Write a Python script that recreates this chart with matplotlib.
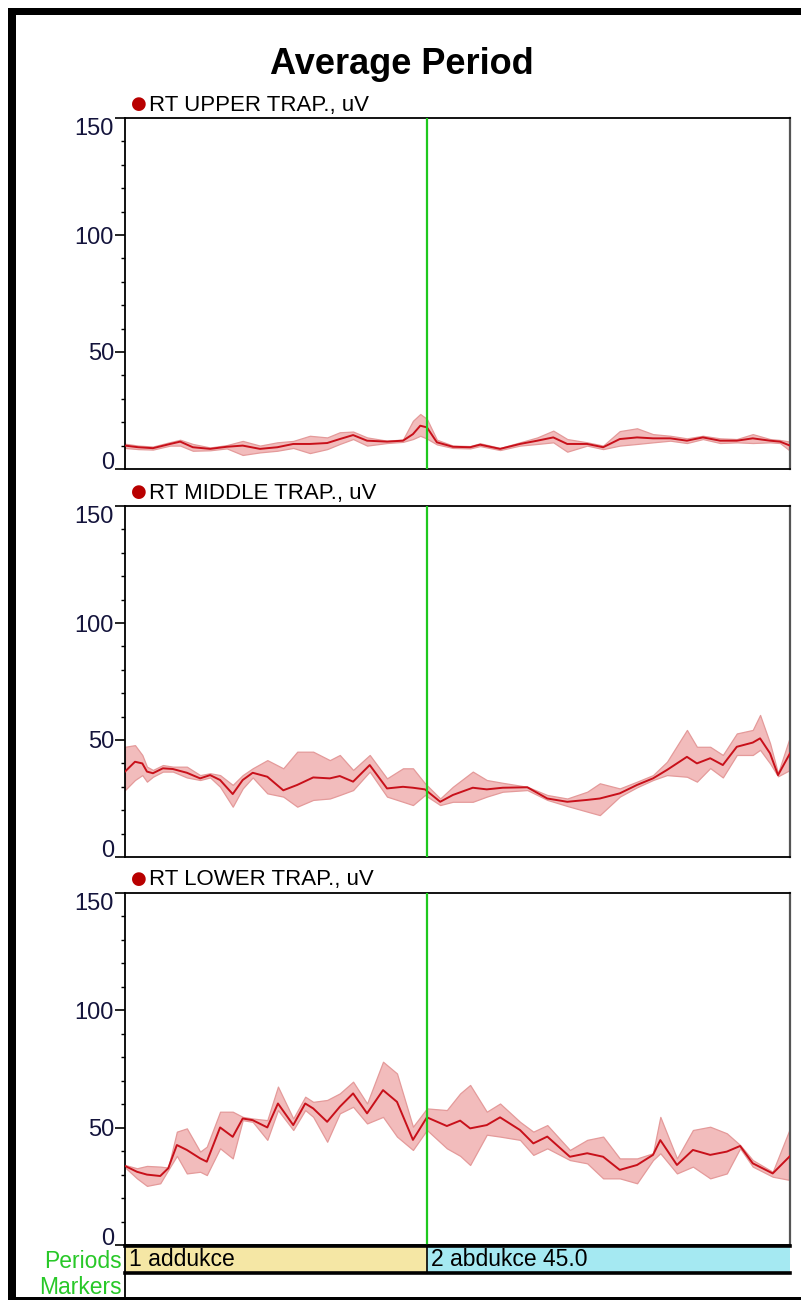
import matplotlib
matplotlib.use("Agg")
import matplotlib.pyplot as plt
from matplotlib.lines import Line2D
from matplotlib.patches import Rectangle
from matplotlib.ticker import MultipleLocator, FixedLocator

# ---------------------------------------------------------------------------
# Data: averaged EMG envelope (% of cycle) with mean and lower/upper band
# ---------------------------------------------------------------------------
upper_t = [0, 2, 4.2, 6.8, 8.3, 10.2, 12.8, 15.3, 17.7, 20.3, 22.9, 25.3, 27.8,
           30.4, 32.3, 34.3, 36.4, 39.4, 41.8, 43.3, 44.4, 45.4, 46.9, 49.3,
           51.9, 53.4, 56.4, 59.4, 62, 64.4, 66.5, 69.5, 71.9, 74.4, 77, 79.4,
           82, 84.5, 86.9, 89.5, 92, 94.4, 97, 98.5, 100]
upper_mean = [10, 9.3, 8.9, 10.7, 11.7, 9.3, 8.6, 9.5, 10, 8.6, 9.3, 10.7, 10.7,
              11.1, 12.8, 14.5, 12.1, 11.7, 12.1, 14.9, 18.5, 17.8, 11.4, 9.5,
              9.3, 10.4, 8.6, 10.7, 12.1, 13.5, 10.7, 10.7, 9.3, 12.8, 13.5, 13.1,
              13.1, 12.1, 13.5, 12.1, 12.1, 13.1, 12.1, 11.7, 10]
upper_lo = [9, 8.5, 8.3, 10, 10, 7.8, 8, 8.8, 6, 7.1, 7.8, 9, 6.8,
            8.5, 10.7, 12.8, 10, 11.1, 11.6, 12.8, 14.2, 13, 10.5, 9,
            8.8, 9.8, 8.1, 10, 10.7, 11.4, 7.4, 10, 8.5, 10, 10.7, 11.4,
            12.1, 11.1, 12.8, 11.1, 11.4, 11.1, 11.4, 11.1, 7.8]
upper_hi = [10.8, 10, 9.6, 11.5, 12.5, 10.7, 9.2, 10.2, 12, 10, 11.4, 12, 14.2,
            13.5, 15.7, 16, 13.5, 12.1, 12.6, 20.6, 23.5, 21.4, 12.5, 10,
            9.8, 11, 9, 11.4, 13.5, 16.4, 12.8, 11.4, 10, 16.2, 17.4, 14.9,
            14.2, 13.1, 14.2, 13.1, 12.8, 14.9, 12.8, 12.4, 11.7]

middle_t = [0, 1.5, 2.6, 3.3, 4.2, 5.7, 7.2, 9.3, 11.3, 12.8, 14.3, 16.2, 17.7,
            19.2, 21.4, 23.8, 25.9, 28.3, 30.8, 32.3, 34.3, 36.8, 39.4, 41.8,
            43.3, 45.1, 47.4, 49.3, 52.3, 54.4, 56.8, 60.5, 63.5, 66.5, 69.5,
            71.4, 74.4, 77, 79.4, 81.5, 84.5, 86, 88, 89.9, 92, 94.4, 95.5, 97,
            98.2, 100]
middle_mean = [36.5, 40.7, 40, 36.5, 35.8, 37.9, 37.6, 36, 33.6, 35, 32.9, 26.9,
               32.9, 36, 34.3, 28.5, 30.8, 34, 33.6, 34.6, 32.2, 39.3, 29.3, 30,
               29.6, 28.9, 23.6, 26.5, 29.6, 28.9, 29.6, 29.8, 25, 23.6, 24.4,
               25, 27.2, 30.8, 33.6, 37.2, 42.8, 40, 42.2, 39.3, 47.1, 48.9, 50.7,
               44.3, 35, 44.3]
middle_lo = [28.6, 32.9, 35, 32.2, 34.3, 36.5, 36.5, 34, 32.9, 34, 30, 21.5,
             29.3, 34, 27.2, 25.8, 21.5, 24.4, 25, 26.5, 28.6, 36.5, 25.8, 23.6,
             22.2, 26.5, 22.2, 23.6, 23.6, 25.8, 27.9, 28.6, 24.4, 21.8, 19.4,
             17.9, 25.8, 29.8, 32.9, 35, 34.3, 32.2, 38, 34, 43.6, 43.6, 45.8,
             40, 34.5, 37.2]
middle_hi = [47.1, 47.8, 43.6, 38.6, 37.2, 39.3, 38.6, 38.6, 35, 35.8, 35, 30.8,
             35, 37.9, 41.4, 37.9, 45, 45, 41.4, 43.6, 37.2, 43.6, 33.6, 37.9,
             37.9, 31.5, 25, 30, 36.5, 32.9, 31.7, 30, 26.5, 25, 27.9,
             31.5, 29.3, 32.2, 35, 40.7, 54.3, 47.1, 47.1, 43.6, 52.8, 54.3, 60.7,
             48.6, 35.8, 51.4]

lower_t = [0, 1.8, 3.3, 5.3, 6.5, 7.8, 9.3, 11.3, 12.3, 14.3, 16.2, 17.7, 19.2,
           21.4, 23, 25.3, 27.1, 28.3, 30.4, 32.3, 34.3, 36.4, 38.8, 40.9, 43.3,
           45.4, 48.4, 50.4, 51.9, 54.4, 56.4, 59.4, 61.4, 63.5, 66.9, 69.5,
           71.9, 74.4, 77, 79.4, 80.5, 83, 85.4, 88, 90.5, 92.5, 94.4, 97.4, 100]
lower_mean = [33.7, 31.2, 30, 29.4, 32.7, 42.6, 40.5, 36.9, 35.5, 50.1, 46.1,
              53.9, 53.2, 50.1, 60.3, 51.1, 60.3, 58.2, 52.5, 58.9, 64.6, 56.1,
              66, 61, 44.8, 54.4, 50.7, 53, 49.7, 51.1, 54.4, 49, 43.3, 46.2,
              37.6, 39.1, 37.6, 32, 34.1, 38.4, 44.7, 34.1, 40.5, 38.4, 39.8,
              42.2, 34.8, 30.5, 37.9]
lower_lo = [33.1, 28.4, 25.2, 26.3, 32, 38, 30.5, 31.2, 29.8, 41.2, 36.9,
            53.2, 52.5, 44.8, 57.5, 49, 57.5, 54.6, 44, 56.1, 58.9, 51.8,
            54.6, 46.2, 40.5, 49, 41.2, 38, 34.1, 47, 46.2, 44.8, 38.4, 41.2,
            36.2, 34.8, 28.4, 28.4, 26.3, 36.2, 39.1, 30.5, 33.4, 28.4, 30.5,
            41.2, 33.4, 29.1, 27.7]
lower_hi = [34.1, 32.7, 33.7, 33.4, 33, 48.3, 49.7, 39.8, 41.9, 56.8, 56.8,
            54.6, 53.9, 53.2, 67.5, 53.9, 63.2, 61, 61.8, 64.6, 69.6, 60.3,
            78.1, 73.1, 50.4, 58.2, 57.5, 64.6, 68.2, 56.8, 60.3, 52.5, 48.3,
            51.1, 40.5, 44.8, 46.2, 36.9, 36.9, 39.1, 54.6, 36.9, 49, 50.4, 47.6,
            42.6, 36.2, 31.2, 49.7]

channels = ["RT UPPER TRAP., uV", "RT MIDDLE TRAP., uV", "RT LOWER TRAP., uV"]
period_names = ["1 addukce", "2 abdukce 45.0"]
period_starts = [0, 45.4]
period_ends = [45.4, 100]
y_ticks = [0, 50, 100, 150]

# ---------------------------------------------------------------------------
W, H = 801, 1302
fig = plt.figure(figsize=(W / 100, H / 100), dpi=100)
fig.patch.set_facecolor("white")

SANS = ["Liberation Sans", "DejaVu Sans"]

LINE_RED = "#c8101a"
BAND_FILL = "#f2bcbc"
BAND_EDGE = "#e49a9a"
GREEN = "#1ec81e"
LABEL_GREEN = "#28c828"
TICK_TEXT = "#14143c"


def fx(px):
    return px / W


def fy(py):
    return 1 - py / H


AX_L, AX_R = 125, 790
panels = [(118, 469), (506, 857), (893, 1245)]
series = [(upper_t, upper_mean, upper_lo, upper_hi),
          (middle_t, middle_mean, middle_lo, middle_hi),
          (lower_t, lower_mean, lower_lo, lower_hi)]

for (top, bot), name, (t, m, lo, hi) in zip(panels, channels, series):
    ax = fig.add_axes([fx(AX_L), fy(bot), (AX_R - AX_L) / W, (bot - top) / H])
    ax.fill_between(t, lo, hi, facecolor=BAND_FILL, edgecolor=BAND_EDGE,
                    linewidth=0.9, zorder=2)
    ax.plot(t, m, color=LINE_RED, linewidth=1.4, zorder=3)
    ax.axvline(period_ends[0], color=GREEN, linewidth=1.6, zorder=4)
    ax.set_xlim(0, 100)
    ax.set_ylim(0, 150)
    ax.set_xticks([])
    ax.yaxis.set_major_locator(FixedLocator(y_ticks))
    ax.yaxis.set_minor_locator(MultipleLocator(10))
    ax.tick_params(axis="y", which="major", direction="out", length=7,
                   width=1.2, labelsize=17, labelcolor=TICK_TEXT, pad=1)
    ax.tick_params(axis="y", which="minor", direction="out", length=3,
                   width=1.0)
    labels = ax.get_yticklabels()
    for lab in labels:
        lab.set_family(SANS)
    # end labels sit inside the axis range
    labels[0].set_verticalalignment("baseline")
    labels[-1].set_verticalalignment("top")
    for side in ("left", "top", "bottom"):
        ax.spines[side].set_linewidth(1.3)
        ax.spines[side].set_color("black")
    ax.spines["right"].set_linewidth(1.6)
    ax.spines["right"].set_color("#555555")
    # channel caption with the red bullet
    fig.text(fx(139), fy(top - 14), "\u25cf", color="#b80000", fontsize=13,
             ha="center", va="center", family=["DejaVu Sans"])
    fig.text(fx(149), fy(top - 13), name, color="black", fontsize=16,
             ha="left", va="center", family=SANS)

# title
fig.text(fx(402), fy(65), "Average Period", fontsize=26, fontweight="bold",
         ha="center", va="center", family=SANS)

# periods strip
pax = fig.add_axes([fx(AX_L), fy(1273), (AX_R - AX_L) / W, 27 / H])
colors = ["#f5e7a5", "#a5e9f2"]
for name, s, e, c in zip(period_names, period_starts, period_ends, colors):
    pax.barh(0, e - s, left=s, height=1, color=c, edgecolor="none")
    pax.text(s + 0.6, 0, name, ha="left", va="center", fontsize=16.5,
             family=SANS, color="black")
pax.axvline(period_starts[1], color="black", linewidth=1.2)
pax.set_xlim(0, 100)
pax.set_ylim(-0.5, 0.5)
pax.set_xticks([])
pax.set_yticks([])
for side in ("top", "bottom"):
    pax.spines[side].set_linewidth(2.6)
pax.spines["left"].set_linewidth(1.3)
pax.spines["right"].set_visible(False)

fig.text(fx(122), fy(1261), "Periods", color=LABEL_GREEN, fontsize=16.5,
         ha="right", va="center", family=SANS)
fig.text(fx(122), fy(1287), "Markers", color=LABEL_GREEN, fontsize=16.5,
         ha="right", va="center", family=SANS)
fig.add_artist(Line2D([fx(AX_L), fx(AX_L)], [fy(1273), fy(1298)],
                      color="black", linewidth=1.3))

# outer frame (top, left, bottom)
fig.add_artist(Rectangle((fx(8), fy(15)), 1 - fx(8), 7 / H, color="black",
                         transform=fig.transFigure, lw=0))
fig.add_artist(Rectangle((fx(8), fy(1300)), 8 / W, (1300 - 8) / H,
                         color="black", transform=fig.transFigure, lw=0))
fig.add_artist(Rectangle((fx(8), fy(1300)), 1 - fx(8), 3 / H, color="black",
                         transform=fig.transFigure, lw=0))

fig.savefig("out.png", dpi=100)
